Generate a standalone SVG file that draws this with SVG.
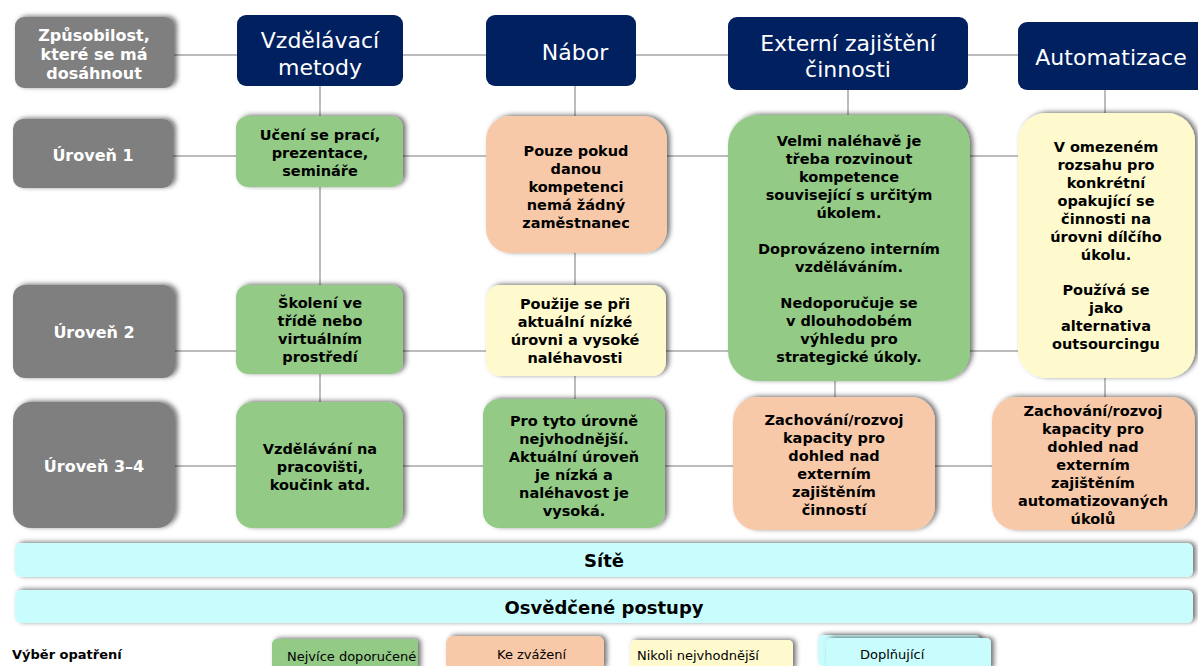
<svg xmlns="http://www.w3.org/2000/svg" width="1198" height="666" viewBox="0 0 1198 666">
<defs>
<filter id="sh" x="-20%" y="-20%" width="140%" height="140%">
<feDropShadow dx="3" dy="-1" stdDeviation="2.5" flood-color="#000" flood-opacity="0.55"/>
</filter>
<style>
.gray{fill:#7f7f7f;filter:url(#sh)}
.navy{fill:#002060}
.green{fill:#93cb86;filter:url(#sh)}
.salmon{fill:#f8c9a9;filter:url(#sh)}
.yellow{fill:#fefacd;filter:url(#sh)}
.cyan{fill:#c9fdfd;filter:url(#sh)}
.wt{font-family:"DejaVu Sans",Verdana,sans-serif;font-weight:bold;font-size:16px;fill:#fff;text-anchor:middle}
.ht{font-family:"DejaVu Sans",Tahoma,sans-serif;font-size:22px;fill:#fff;text-anchor:middle}
.bt{font-family:"DejaVu Sans",Verdana,sans-serif;font-weight:bold;font-size:14.5px;fill:#000;text-anchor:middle}
.bar{font-family:"DejaVu Sans",Verdana,sans-serif;font-weight:bold;font-size:18px;fill:#000;text-anchor:middle}
.lg{font-family:"DejaVu Sans",Tahoma,sans-serif;font-size:13px;fill:#000}
.lgb{font-family:"DejaVu Sans",Verdana,sans-serif;font-weight:bold;font-size:13px;fill:#000}
.ln{stroke:#a6a6a6;stroke-width:1.5;fill:none}
</style>
</defs>
<rect width="1198" height="666" fill="#fff"/>
<g id="connectors">
<line class="ln" x1="174" y1="55" x2="1018" y2="55"/>
<line class="ln" x1="173" y1="156" x2="1018" y2="156"/>
<line class="ln" x1="175" y1="351" x2="1018" y2="351"/>
<line class="ln" x1="175" y1="466" x2="992" y2="466"/>
<line class="ln" x1="320" y1="86" x2="320" y2="402"/>
<line class="ln" x1="575" y1="86" x2="575" y2="399"/>
<line class="ln" x1="848" y1="90" x2="848" y2="115"/>
<line class="ln" x1="835" y1="381" x2="835" y2="397"/>
<line class="ln" x1="1105" y1="90" x2="1105" y2="113"/>
<line class="ln" x1="1105" y1="378" x2="1105" y2="397"/>
</g>
<g id="h0"><rect class="gray" x="15" y="17" width="159" height="71" rx="9"/>
<text class="wt"><tspan x="94" y="41">Způsobilost,</tspan><tspan x="94" y="60">které se má</tspan><tspan x="94" y="79">dosáhnout</tspan></text></g>
<g id="h1"><rect class="navy" x="237" y="15" width="166" height="71" rx="9"/>
<text class="ht"><tspan x="320" y="48">Vzdělávací</tspan><tspan x="320" y="75">metody</tspan></text></g>
<g id="h2"><rect class="navy" x="486" y="15" width="150" height="71" rx="9"/>
<text class="ht" x="575" y="60">Nábor</text></g>
<g id="h3"><rect class="navy" x="728" y="17" width="240" height="73" rx="9"/>
<text class="ht"><tspan x="848" y="51">Externí zajištění</tspan><tspan x="848" y="77">činnosti</tspan></text></g>
<g id="h4"><rect class="navy" x="1018" y="22" width="190" height="68" rx="9"/>
<text class="ht" x="1111" y="65" font-size="21">Automatizace</text></g>

<g id="r1"><rect class="gray" x="13" y="119" width="160" height="69" rx="10"/>
<text class="wt" x="93" y="161">Úroveň 1</text></g>
<g id="r2"><rect class="gray" x="13" y="285" width="162" height="93" rx="12"/>
<text class="wt" x="94" y="338">Úroveň 2</text></g>
<g id="r3"><rect class="gray" x="13" y="402" width="162" height="126" rx="18"/>
<text class="wt" x="94" y="472">Úroveň 3–4</text></g>

<g id="c11"><rect class="green" x="236" y="116" width="167" height="71" rx="12"/>
<text class="bt"><tspan x="320" y="140">Učení se prací,</tspan><tspan x="320" y="158">prezentace,</tspan><tspan x="320" y="176">semináře</tspan></text></g>
<g id="c12"><rect class="green" x="236" y="285" width="167" height="89" rx="12"/>
<text class="bt"><tspan x="320" y="308">Školení ve</tspan><tspan x="320" y="326">třídě nebo</tspan><tspan x="320" y="344">virtuálním</tspan><tspan x="320" y="362">prostředí</tspan></text></g>
<g id="c13"><rect class="green" x="236" y="402" width="167" height="126" rx="16"/>
<text class="bt"><tspan x="320" y="454">Vzdělávání na</tspan><tspan x="320" y="472">pracovišti,</tspan><tspan x="320" y="490">koučink atd.</tspan></text></g>

<g id="c21"><rect class="salmon" x="486" y="116" width="181" height="137" rx="24"/>
<text class="bt"><tspan x="576" y="156">Pouze pokud</tspan><tspan x="576" y="174">danou</tspan><tspan x="576" y="192">kompetenci</tspan><tspan x="576" y="210">nemá žádný</tspan><tspan x="576" y="228">zaměstnanec</tspan></text></g>
<g id="c22"><rect class="yellow" x="486" y="285" width="180" height="91" rx="14"/>
<text class="bt"><tspan x="575" y="309">Použije se při</tspan><tspan x="575" y="327">aktuální nízké</tspan><tspan x="575" y="345">úrovni a vysoké</tspan><tspan x="575" y="363">naléhavosti</tspan></text></g>
<g id="c23"><rect class="green" x="483" y="399" width="182" height="129" rx="16"/>
<text class="bt"><tspan x="574" y="426">Pro tyto úrovně</tspan><tspan x="574" y="444">nejvhodnější.</tspan><tspan x="574" y="462">Aktuální úroveň</tspan><tspan x="574" y="480">je nízká a</tspan><tspan x="574" y="498">naléhavost je</tspan><tspan x="574" y="516">vysoká.</tspan></text></g>

<g id="c31"><rect class="green" x="728" y="115" width="242" height="266" rx="30"/>
<text class="bt"><tspan x="849" y="146">Velmi naléhavě je</tspan><tspan x="849" y="164">třeba rozvinout</tspan><tspan x="849" y="182">kompetence</tspan><tspan x="849" y="200">související s určitým</tspan><tspan x="849" y="218">úkolem.</tspan><tspan x="849" y="254">Doprovázeno interním</tspan><tspan x="849" y="272">vzděláváním.</tspan><tspan x="849" y="308">Nedoporučuje se</tspan><tspan x="849" y="326">v dlouhodobém</tspan><tspan x="849" y="344">výhledu pro</tspan><tspan x="849" y="362">strategické úkoly.</tspan></text></g>
<g id="c33"><rect class="salmon" x="733" y="397" width="202" height="133" rx="24"/>
<text class="bt"><tspan x="834" y="425">Zachování/rozvoj</tspan><tspan x="834" y="443">kapacity pro</tspan><tspan x="834" y="461">dohled nad</tspan><tspan x="834" y="479">externím</tspan><tspan x="834" y="497">zajištěním</tspan><tspan x="834" y="515">činností</tspan></text></g>

<g id="c41"><rect class="yellow" x="1018" y="113" width="177" height="265" rx="28"/>
<text class="bt"><tspan x="1106" y="152">V omezeném</tspan><tspan x="1106" y="170">rozsahu pro</tspan><tspan x="1106" y="188">konkrétní</tspan><tspan x="1106" y="206">opakující se</tspan><tspan x="1106" y="224">činnosti na</tspan><tspan x="1106" y="242">úrovni dílčího</tspan><tspan x="1106" y="260">úkolu.</tspan><tspan x="1106" y="295">Používá se</tspan><tspan x="1106" y="313">jako</tspan><tspan x="1106" y="331">alternativa</tspan><tspan x="1106" y="349">outsourcingu</tspan></text></g>
<g id="c43"><rect class="salmon" x="992" y="397" width="203" height="133" rx="24"/>
<text class="bt"><tspan x="1093" y="416">Zachování/rozvoj</tspan><tspan x="1093" y="434">kapacity pro</tspan><tspan x="1093" y="452">dohled nad</tspan><tspan x="1093" y="470">externím</tspan><tspan x="1093" y="488">zajištěním</tspan><tspan x="1093" y="506">automatizovaných</tspan><tspan x="1093" y="524">úkolů</tspan></text></g>

<g id="bar1"><rect class="cyan" x="15" y="543" width="1178" height="34" rx="6"/>
<text class="bar" x="604" y="567">Sítě</text></g>
<g id="bar2"><rect class="cyan" x="15" y="590" width="1178" height="33" rx="6"/>
<text class="bar" x="604" y="614">Osvědčené postupy</text></g>

<g id="legend">
<text class="lgb" x="12" y="659">Výběr opatření</text>
<g id="lg1"><rect class="green" x="272" y="639" width="146" height="32" rx="5"/>
<text class="lg" x="287" y="661">Nejvíce doporučené</text></g>
<g id="lg2"><rect class="salmon" x="446" y="636" width="158" height="35" rx="7"/>
<text class="lg" x="497" y="659">Ke zvážení</text></g>
<g id="lg3"><rect class="yellow" x="630" y="640" width="163" height="31" rx="5"/>
<text class="lg" x="637" y="660">Nikoli nejvhodnější</text></g>
<g id="lg4"><rect class="cyan" x="818" y="635" width="162" height="31" rx="5"/>
<rect class="cyan" x="826" y="638" width="165" height="33" rx="5"/>
<text class="lg" x="860" y="659">Doplňující</text></g>
</g>
</svg>
